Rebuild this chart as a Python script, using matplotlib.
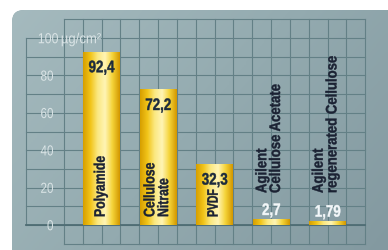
import matplotlib
matplotlib.use('Agg')
import matplotlib.pyplot as plt
import numpy as np
from matplotlib.colors import LinearSegmentedColormap
from matplotlib.patches import FancyBboxPatch, PathPatch
from matplotlib.textpath import TextPath
from matplotlib.font_manager import FontProperties
from matplotlib.transforms import Affine2D

# data
categories = ['Polyamide', 'Cellulose\nNitrate', 'PVDF',
              'Agilent\nCellulose Acetate', 'Agilent\nregenerated Cellulose']
values = [92.4, 72.2, 32.3, 2.7, 1.79]
value_labels = ['92,4', '72,2', '32,3', '2,7', '1,79']
y_ticks = [0, 20, 40, 60, 80]
top_tick = 100
unit_label = 'µg/cm²'

fig = plt.figure(figsize=(3.88, 2.5), dpi=100)
fig.patch.set_facecolor('white')
ax = fig.add_axes([0, 0, 1, 1])
# 1 bar slot = 56.5 px, 1 unit = 1.87 px
ax.set_xlim(-101.5 / 56.5, (388 - 101.5) / 56.5)
ax.set_ylim(-25 / 1.87, 225 / 1.87)
ax.axis('off')


def ntext(x, y, s, size, color, weight='bold', rot=0, ha='center',
          sx=0.85, lh=1.0, dy=0, z=4, stroke=0.3):
    # condensed text: glyph paths squeezed horizontally
    fp = FontProperties(family='Liberation Sans', weight=weight)
    lines = s.split('\n')
    cap = 0.72 * size
    paths = [TextPath((0, 0), ln, size=size, prop=fp) for ln in lines]
    wmax = max(p.get_extents().x1 for p in paths)
    ax_ = {'left': 0, 'center': wmax / 2, 'right': wmax}[ha]
    ay_ = (cap - (len(lines) - 1) * size * lh) / 2
    px, py = ax.transData.transform((x, y))
    for k, p in enumerate(paths):
        t = (Affine2D().translate(-ax_, -k * size * lh - ay_).scale(sx, 1)
             .rotate_deg(rot).scale(fig.dpi / 72).translate(px, py + dy))
        ax.add_patch(PathPatch(p, transform=t, facecolor=color,
                               edgecolor=color, lw=stroke, zorder=z))


# grey-blue panel with rounded corner
panel = FancyBboxPatch((0.12, -0.3), 4.2, 2.7,
                       boxstyle='round,pad=0,rounding_size=0.12',
                       transform=fig.dpi_scale_trans, facecolor='#93abb0',
                       edgecolor='none', zorder=0)
ax.add_patch(panel)
bg_cmap = LinearSegmentedColormap.from_list('bg', ['#a6bbbf', '#94abb0', '#8399a0'])
gx = np.linspace(0, 1, 200)
gy = np.linspace(0, 1, 120)
grad = 0.65 * gx[None, :] + 0.35 * gy[:, None]
img = ax.imshow(grad, cmap=bg_cmap, aspect='auto', origin='upper',
                extent=(*ax.get_xlim(), *ax.get_ylim()), zorder=0.5)
img.set_clip_path(panel)

# grid
gc = '#638086'
xs = np.arange(-2, 15) / 3.0
for x in xs:
    ax.plot([x, x], [-10, 110], color=gc, lw=0.8, zorder=1)
ax.plot([-4 / 3, -4 / 3], [0, 100], color=gc, lw=0.8, zorder=1)
for y in range(0, 101, 10):
    ax.plot([-4 / 3, 14 / 3], [y, y], color=gc, lw=0.8, zorder=1)
for y in (-10, 110):
    ax.plot([-2 / 3, 14 / 3], [y, y], color=gc, lw=0.8, zorder=1)
ax.plot([-4 / 3, 14 / 3], [0, 0], color='#4f6d74', lw=1.3, zorder=1)

# y tick labels
tc = '#d9e3e5'
for t in y_ticks:
    ntext(-0.858, t, str(t), 10.5, tc, weight='normal', ha='right', sx=0.8,
          z=3, stroke=0)
ntext(-0.77, top_tick, str(top_tick), 10.5, tc, weight='normal', ha='right',
      sx=0.85, z=3, stroke=0)
ntext(-0.72, top_tick, unit_label, 10.5, tc, weight='normal', ha='left',
      sx=0.9, z=3, stroke=0)

# bars with golden gradient
bar_cmap = LinearSegmentedColormap.from_list(
    'gold', ['#d79f00', '#f2c51a', '#fbe983', '#fff4b4', '#f5d43a', '#d39800'])
bw = 37 / 56.5
shade = np.linspace(0, 1, 64)[None, :]
for i, v in enumerate(values):
    ax.imshow(shade, cmap=bar_cmap, aspect='auto',
              extent=(i - bw / 2, i + bw / 2, 0, v), zorder=2)

# value labels
for i, (v, lab) in enumerate(zip(values, value_labels)):
    if v > 10:
        ntext(i, v, lab, 12, '#1b2a3d', dy=-14, sx=0.8)
    else:
        ntext(i, v, lab, 12, '#f3f7f9', dy=11, sx=0.8)

# category labels (rotated)
for i, (v, cat) in enumerate(zip(values, categories)):
    if v > 10:
        squeeze = 0.68 if cat.isupper() else 0.8
        ntext(i - 0.04, 4.3, cat, 11, '#1b2233', rot=90, ha='left',
              sx=squeeze, lh=0.9)
    else:
        ntext(i - 0.06, 17.1, cat, 11, '#1b2233', rot=90, ha='left',
              sx=0.86, lh=0.9)

fig.savefig('out.png', dpi=100)
